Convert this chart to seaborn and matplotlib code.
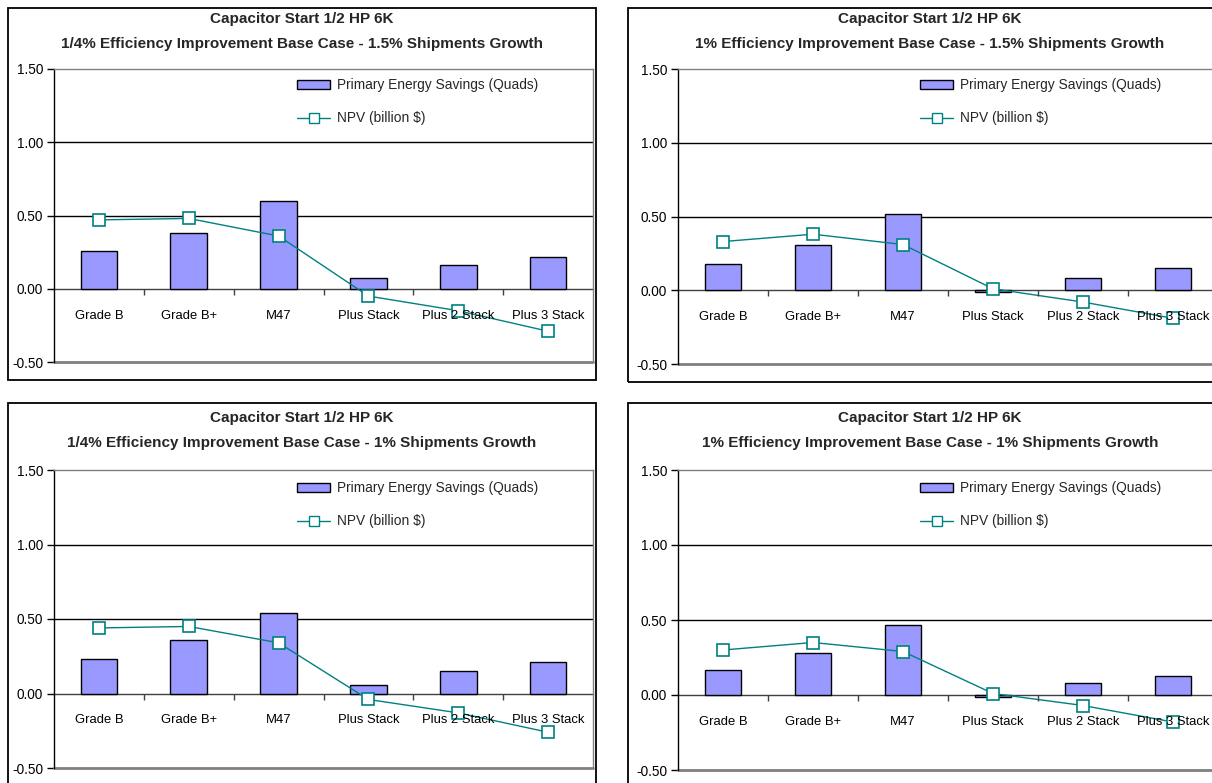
import numpy as np
import pandas as pd
import matplotlib
matplotlib.use("Agg")
import matplotlib.pyplot as plt
import seaborn as sns
from matplotlib.patches import Patch, Rectangle
from matplotlib.lines import Line2D
from matplotlib.ticker import FormatStrFormatter

# Data
categories = ["Grade B", "Grade B+", "M47", "Plus Stack", "Plus 2 Stack", "Plus 3 Stack"]

savings_q_15 = [0.26, 0.38, 0.60, 0.07, 0.16, 0.22]
npv_q_15 = [0.47, 0.48, 0.36, -0.05, -0.15, -0.29]

savings_1_15 = [0.18, 0.31, 0.52, -0.01, 0.08, 0.15]
npv_1_15 = [0.33, 0.38, 0.31, 0.01, -0.08, -0.19]

savings_q_1 = [0.23, 0.36, 0.54, 0.06, 0.15, 0.21]
npv_q_1 = [0.44, 0.45, 0.34, -0.04, -0.13, -0.26]

savings_1_1 = [0.17, 0.28, 0.47, -0.01, 0.08, 0.13]
npv_1_1 = [0.30, 0.35, 0.29, 0.01, -0.07, -0.18]

title = "Capacitor Start 1/2 HP 6K"
subtitles = [
    "1/4% Efficiency Improvement Base Case - 1.5% Shipments Growth",
    "1% Efficiency Improvement Base Case - 1.5% Shipments Growth",
    "1/4% Efficiency Improvement Base Case - 1% Shipments Growth",
    "1% Efficiency Improvement Base Case - 1% Shipments Growth",
]
y_ticks = [-0.5, 0.0, 0.5, 1.0, 1.5]

bar_color = "#9999FF"
line_color = "#008080"

sns.set_theme(style="white")
plt.rcParams["font.family"] = ["Liberation Sans", "DejaVu Sans"]

W, H = 1212, 783
fig = plt.figure(figsize=(W / 100, H / 100), dpi=100)


def px_axes(x0, x1, y0, y1):
    # pixel box (top-left origin) -> figure fraction
    return fig.add_axes([x0 / W, 1 - y1 / H, (x1 - x0) / W, (y1 - y0) / H])


def draw_panel(ax, savings, npv, subtitle, box, title_y, legend_xy):
    n = len(categories)
    df = pd.DataFrame({"cat": categories, "sav": savings})
    sns.barplot(data=df, x="cat", y="sav", color=bar_color, edgecolor="black",
                linewidth=1.0, width=0.41, saturation=1, ax=ax, zorder=3)
    sns.lineplot(x=np.arange(n), y=npv, color=line_color, lw=1.0, marker="s",
                 markersize=9, markerfacecolor="white", markeredgecolor=line_color,
                 markeredgewidth=1.2, ax=ax, zorder=4)

    ax.set_xlim(-0.5, n - 0.5)
    ax.set_ylim(-0.5, 1.5)
    ax.set_yticks(y_ticks)
    ax.yaxis.set_major_formatter(FormatStrFormatter("%.2f"))
    ax.set_xlabel("")
    ax.set_ylabel("")

    for v in [0.5, 1.0]:
        ax.axhline(v, color="black", lw=1.0, zorder=1)
    ax.axhline(-0.5, color="#808080", lw=2.0, zorder=1, clip_on=False)

    ax.spines["bottom"].set_position(("data", 0))
    ax.spines["bottom"].set_color("#404040")
    ax.spines["bottom"].set_linewidth(1.0)
    ax.spines["bottom"].set_zorder(2)
    ax.spines["left"].set_color("black")
    ax.spines["left"].set_linewidth(1.0)
    ax.spines["top"].set_color("#808080")
    ax.spines["top"].set_linewidth(1.0)
    ax.spines["right"].set_color("#808080")
    ax.spines["right"].set_linewidth(1.0)

    ax.set_xticks(np.arange(n))
    ax.set_xticklabels(categories)
    ax.set_xticks(np.arange(n - 1) + 0.5, minor=True)
    ax.tick_params(axis="x", which="major", length=0, pad=15, labelsize=9.4, colors="black")
    ax.tick_params(axis="x", which="minor", length=4, width=1, direction="out",
                   color="#404040", bottom=True)
    ax.tick_params(axis="y", length=5, width=1, direction="out", left=True,
                   labelsize=9.8, colors="black", pad=3)
    # category labels sit above the NPV markers, as in the original
    ax.xaxis.set_zorder(5)

    # outer chart box
    x0, y0, x1, y1 = box
    fig.patches.append(Rectangle((x0 / W, 1 - y1 / H), (x1 - x0) / W, (y1 - y0) / H,
                                 transform=fig.transFigure, fill=False,
                                 edgecolor="black", lw=1.3, zorder=0))

    cx = (x0 + min(x1, 1232)) / 2
    fig.text(cx / W, 1 - title_y / H, title, ha="center", va="center",
             fontsize=11, fontweight="bold")
    fig.text(cx / W, 1 - (title_y + 25) / H, subtitle, ha="center", va="center",
             fontsize=11, fontweight="bold")

    handles = [
        Patch(facecolor=bar_color, edgecolor="black", lw=1.0),
        Line2D([], [], color=line_color, lw=1.0, marker="s", markersize=7,
               markerfacecolor="white", markeredgecolor=line_color),
    ]
    lx, ly = legend_xy
    ax.legend(handles, ["Primary Energy Savings (Quads)", "NPV (billion $)"],
              loc="upper left", bbox_to_anchor=(lx / W, 1 - ly / H),
              bbox_transform=fig.transFigure, frameon=False, fontsize=9.9,
              handlelength=2.4, handleheight=0.6, handletextpad=0.5,
              labelspacing=1.4, borderpad=0, borderaxespad=0)


ax_tl = px_axes(54, 593, 69, 362)
draw_panel(ax_tl, savings_q_15, npv_q_15, subtitles[0], (8, 8, 596, 380), 19, (297, 78))

ax_tr = px_axes(678, 1218, 69, 364)
draw_panel(ax_tr, savings_1_15, npv_1_15, subtitles[1], (628, 8, 1240, 382), 19, (920, 78))

ax_bl = px_axes(54, 593, 470, 768)
draw_panel(ax_bl, savings_q_1, npv_q_1, subtitles[2], (8, 403, 596, 800), 418, (297, 481))

ax_br = px_axes(678, 1218, 470, 770)
draw_panel(ax_br, savings_1_1, npv_1_1, subtitles[3], (628, 403, 1240, 800), 418, (920, 481))

fig.savefig("out.png", dpi=100)
